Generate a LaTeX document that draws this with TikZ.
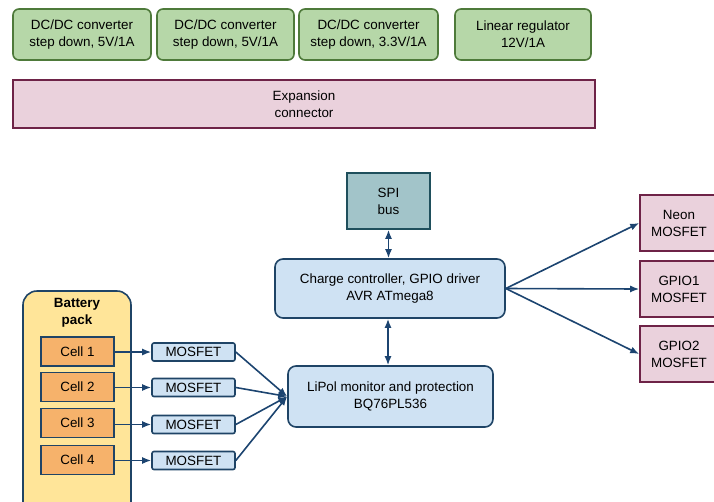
\documentclass[tikz,border=0pt]{standalone}
\usepackage{fontspec}
\setmainfont{Liberation Sans}
\usetikzlibrary{positioning,arrows.meta,calc}
\definecolor{pwrfill}{HTML}{B6D7A8}
\definecolor{pwrline}{HTML}{4E7A3A}
\definecolor{iofill}{HTML}{EAD1DC}
\definecolor{ioline}{HTML}{6E2347}
\definecolor{mcufill}{HTML}{CFE2F3}
\definecolor{mculine}{HTML}{1F4466}
\definecolor{busfill}{HTML}{A2C4C9}
\definecolor{busline}{HTML}{1F4F5C}
\definecolor{packfill}{HTML}{FFE599}
\definecolor{cellfill}{HTML}{F6B26B}
\definecolor{wire}{HTML}{1C4470}
\tikzset{
  pwr/.style={draw=pwrline, fill=pwrfill, rounded corners=6pt, align=center,
              line width=1.6pt, inner sep=2pt},
  io/.style={draw=ioline, fill=iofill, align=center, line width=1.6pt, inner sep=2pt},
  mcu/.style={draw=mculine, fill=mcufill, rounded corners=8pt, align=center,
              line width=1.6pt, inner sep=2pt},
  bus/.style={draw=busline, fill=busfill, align=center, line width=1.6pt, inner sep=2pt},
  cellbox/.style={draw=mculine, fill=cellfill, line width=1.6pt, minimum width=73pt,
                  minimum height=29pt, inner sep=0pt},
  fet/.style={draw=mculine, fill=mcufill, rounded corners=2pt, line width=1.6pt,
              minimum width=83pt, minimum height=18pt, inner sep=0pt},
  flow/.style={-{Latex[length=9pt,width=7pt]}, line width=1.6pt, draw=wire},
  both/.style={{Latex[length=9pt,width=7pt]}-{Latex[length=9pt,width=7pt]},
               line width=1.6pt, draw=wire},
}

\begin{document}
\begin{tikzpicture}[x=1pt, y=-1pt, font=\fontsize{13.4}{17}\selectfont]
        \useasboundingbox (0,0) rectangle (714,501);
        % power supplies
        \node[pwr, minimum width=138pt, minimum height=51pt] (dc1) at (82,34.5) {DC/DC converter\\step down, 5V/1A};
        \node[pwr, minimum width=137pt, minimum height=51pt] (dc2) at (225.5,34.5) {DC/DC converter\\step down, 5V/1A};
        \node[pwr, minimum width=139pt, minimum height=51pt] (dc3) at (368.5,34.5) {DC/DC converter\\step down, 3.3V/1A};
        \node[pwr, minimum width=136pt, minimum height=51pt] (lin) at (523,34.5) {Linear regulator\\12V/1A};
        \node[io, minimum width=582pt, minimum height=48pt] (exp) at (304,104) {Expansion\\connector};
        % controller
        \node[bus, minimum width=83pt, minimum height=56pt] (spi) at (388.5,201) {SPI\\bus};
        \node[mcu, minimum width=230pt, minimum height=59pt] (mcu) at (390,288.5) {Charge controller, GPIO driver\\AVR ATmega8};
        \node[mcu, minimum width=205pt, minimum height=61pt] (bms) at (390.5,396.5) {LiPol monitor and protection\\BQ76PL536};
        % outputs
        \node[io, minimum width=78pt, minimum height=56pt] (neon) at (679,223) {Neon\\MOSFET};
        \node[io, minimum width=78pt, minimum height=56pt] (gp1) at (679,289) {GPIO1\\MOSFET};
        \node[io, minimum width=78pt, minimum height=56pt] (gp2) at (679,354) {GPIO2\\MOSFET};
        % battery
        \node[draw=mculine, fill=packfill, rounded corners=14pt, line width=1.6pt,
              minimum width=108pt, minimum height=230pt] (pack) at (77,406) {};
        \node[font=\fontsize{13.4}{17}\selectfont\bfseries, align=center] (packlbl) at (77,312.5) {Battery\\pack};
        \foreach \i/\y in {1/351.5, 2/387, 3/423, 4/460} {
          \node[cellbox] (c\i) at (77.5,\y) {Cell \i};
        }
        \foreach \i/\y in {1/352, 2/387.5, 3/424.5, 4/460.5} {
          \node[fet] (m\i) at (193.5,\y) {MOSFET};
          \draw[flow] (c\i.east |- m\i) -- (m\i.west);
          \draw[flow] (m\i.east) -- (bms.west);
        }
        \draw[both] (mcu.north -| spi.south) -- (spi.south);
        \draw[both] ($(mcu.south)+(-2,0)$) -- ($(bms.north)+(-2.5,0)$);
        \draw[flow] (mcu.east) -- (neon.west);
        \draw[flow] (mcu.east) -- (gp1.west);
        \draw[flow] (mcu.east) -- (gp2.west);
      \end{tikzpicture}
\end{document}
